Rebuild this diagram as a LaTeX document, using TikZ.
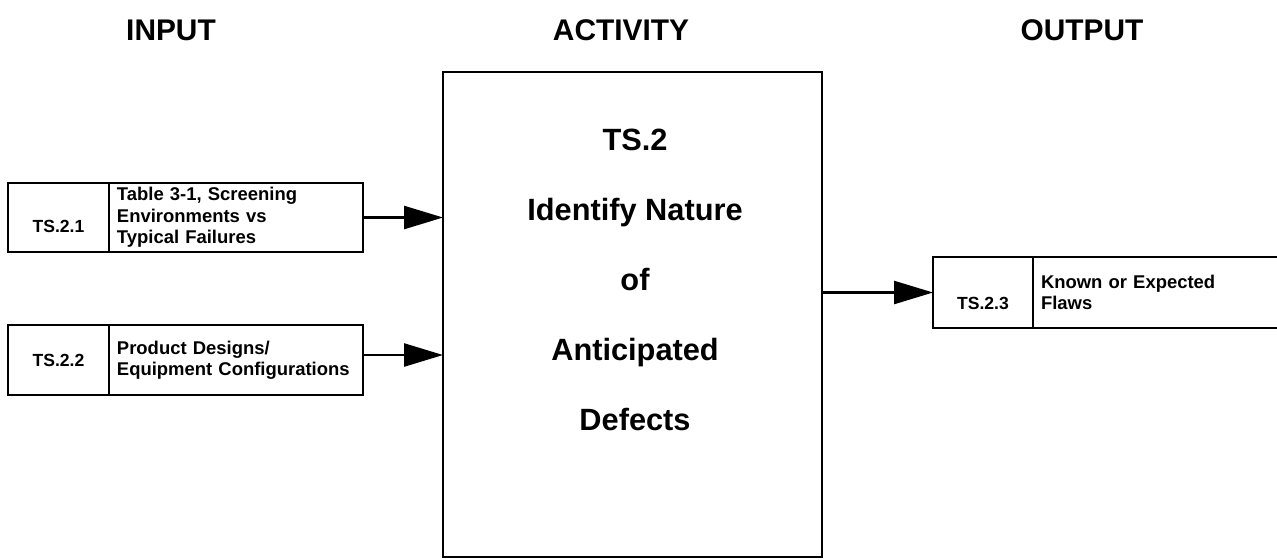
\documentclass[tikz,border=0pt]{standalone}
\usepackage{fontspec}
\setmainfont{Liberation Sans}
\usetikzlibrary{positioning,arrows.meta}

\begin{document}
\begin{tikzpicture}[x=0.02cm, y=-0.02cm, >={Triangle[length=0.78cm,width=0.46cm]},
    box/.style={draw, line width=1.1pt, outer sep=0pt},
    idbox/.style={box, inner sep=0pt, minimum width=2.02cm, minimum height=1.38cm,
        font=\bfseries\fontsize{10}{12}\selectfont},
    descbox/.style={box, inner xsep=0.16cm, inner ysep=0pt, text width=4.76cm,
        minimum height=1.38cm, align=left, font=\bfseries\fontsize{10.5}{12.2}\selectfont},
    head/.style={font=\bfseries\fontsize{17}{20}\selectfont}]
    % Khung hình
    \clip (0, 0) rectangle (1277, 559);

    % Tiêu đề các cột
    \node[head] (hin) at (171, 30) {INPUT};
    \node[head] (hact) at (621, 30) {ACTIVITY};
    \node[head] (hout) at (1082, 30) {OUTPUT};

    % Khối hoạt động chính
    \node[box, line width=1.4pt, minimum width=7.58cm, minimum height=9.7cm] (act) at (632.5, 314.5) {};
    \node[align=center, font=\bfseries\fontsize{17.5}{39.8}\selectfont] (acttxt) at (635, 280)
        {TS.2\\Identify Nature\\of\\Anticipated\\Defects};

    % Các đầu vào
    \node[idbox] (in1) at (58.5, 217.5) {\raisebox{-0.3cm}[0pt][0pt]{TS.2.1}};
    \node[descbox, right=0pt of in1] (d1) {Table 3-1, Screening\\Environments vs\\Typical Failures};
    \node[idbox, minimum height=1.4cm] (in2) at (58.5, 360) {TS.2.2};
    \node[descbox, minimum height=1.4cm, right=0pt of in2] (d2) {Product Designs/\\Equipment Configurations};

    % Đầu ra
    \node[idbox, minimum width=2cm, minimum height=1.42cm] (out1) at (983, 292.5)
        {\raisebox{-0.345cm}[0pt][0pt]{TS.2.3}};
    \node[descbox, text width=5.7cm, minimum height=1.42cm, right=0pt of out1] (d3)
        {Known or Expected\\Flaws};

    % Các mũi tên
    \draw[->, line width=1.4pt] (d1.east) -- (d1.east -| act.west);
    \draw[->, line width=1.4pt] ([yshift=0.1cm]d2.east) -- ([yshift=0.1cm]d2.east -| act.west);
    \draw[->, line width=1.4pt] (act.east |- out1.west) -- (out1.west);
\end{tikzpicture}
\end{document}
